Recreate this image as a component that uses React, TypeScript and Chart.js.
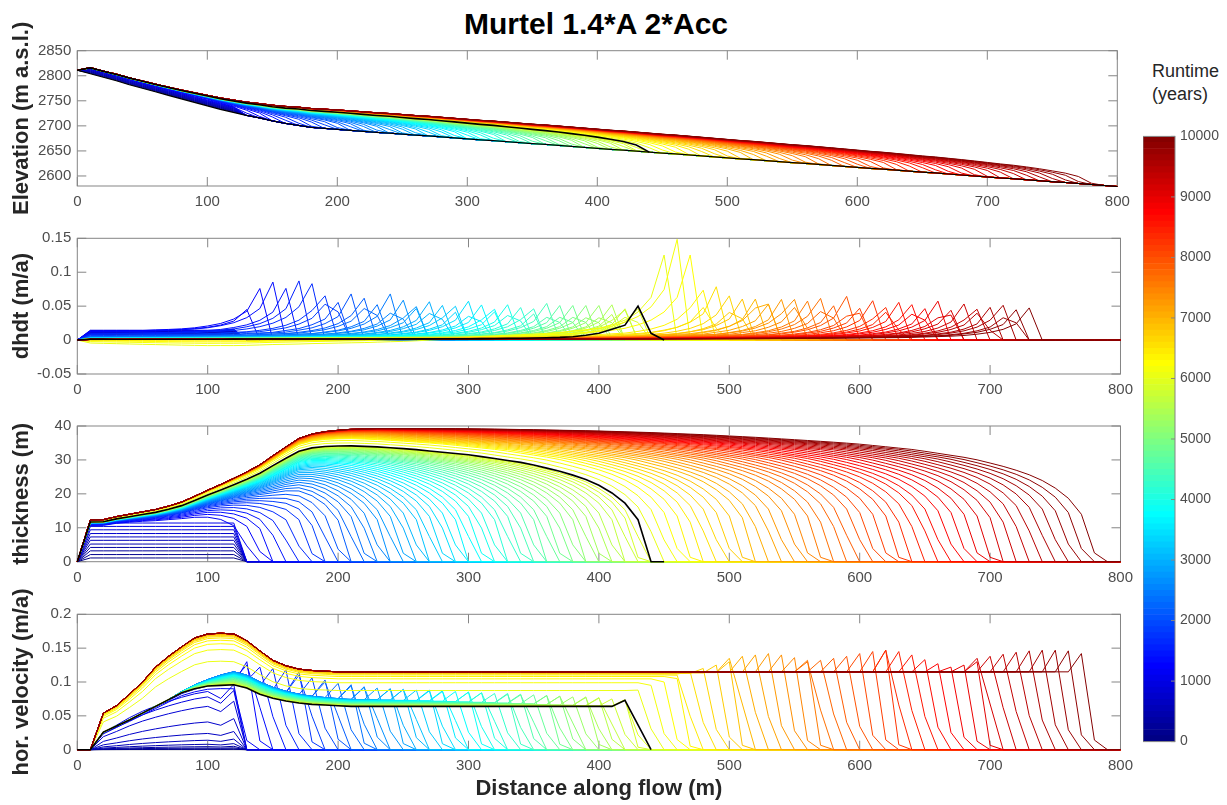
import React, { useEffect, useRef } from 'react';
import { Chart, registerables } from 'chart.js';

Chart.register(...registerables);

// ---------------- data ----------------
const distance = [
  0, 10, 20, 30, 40, 50, 60, 70, 80, 90,
  100, 110, 120, 130, 140, 150, 160, 170, 180, 190,
  200, 210, 220, 230, 240, 250, 260, 270, 280, 290,
  300, 310, 320, 330, 340, 350, 360, 370, 380, 390,
  400, 410, 420, 430, 440, 450, 460, 470, 480, 490,
  500, 510, 520, 530, 540, 550, 560, 570, 580, 590,
  600, 610, 620, 630, 640, 650, 660, 670, 680, 690,
  700, 710, 720, 730, 740, 750, 760, 770, 780, 790,
  800,
];

const runtimeYears = [
  100, 200, 300, 400, 500, 600, 700, 800, 900, 1000,
  1100, 1200, 1300, 1400, 1500, 1600, 1700, 1800, 1900, 2000,
  2100, 2200, 2300, 2400, 2500, 2600, 2700, 2800, 2900, 3000,
  3100, 3200, 3300, 3400, 3500, 3600, 3700, 3800, 3900, 4000,
  4100, 4200, 4300, 4400, 4500, 4600, 4700, 4800, 4900, 5000,
  5100, 5200, 5300, 5400, 5500, 5600, 5700, 5800, 5900, 6000,
  6100, 6200, 6300, 6400, 6500, 6600, 6700, 6800, 6900, 7000,
  7100, 7200, 7300, 7400, 7500, 7600, 7700, 7800, 7900, 8000,
  8100, 8200, 8300, 8400, 8500, 8600, 8700, 8800, 8900, 9000,
  9100, 9200, 9300, 9400, 9500, 9600, 9700, 9800, 9900, 10000,
];
const regimeChangeYear = 6000;

const xTicks = [0, 100, 200, 300, 400, 500, 600, 700, 800];
const elevationTicks = [2600, 2650, 2700, 2750, 2800, 2850];
const dhdtTicks = [-0.05, 0, 0.05, 0.1, 0.15];
const thicknessTicks = [0, 10, 20, 30, 40];
const velocityTicks = [0, 0.05, 0.1, 0.15, 0.2];
const runtimeTicks = [0, 1000, 2000, 3000, 4000, 5000, 6000, 7000, 8000, 9000, 10000];

// bed (lowest black line), m a.s.l.
const bedElevation = [
  2811, 2804, 2797, 2790, 2782, 2775, 2768, 2761, 2754, 2747,
  2740, 2733, 2727, 2721, 2716, 2710, 2705, 2701, 2697, 2695,
  2693, 2691, 2689, 2687, 2685.5, 2683.5, 2681.5, 2680, 2678, 2676,
  2674, 2672, 2670.5, 2668.5, 2666.5, 2664.5, 2663, 2661, 2659, 2657,
  2655, 2653, 2651.5, 2649.5, 2647.5, 2645.5, 2644, 2642, 2640, 2638,
  2636, 2634, 2632.5, 2630.5, 2628.5, 2626.5, 2625, 2623, 2621, 2619,
  2617, 2615, 2613.5, 2611.5, 2609.5, 2607.5, 2606, 2604, 2602, 2600,
  2598, 2596, 2594.5, 2592.5, 2590.5, 2588.5, 2587, 2585, 2583, 2581,
  2579,
];

// ---- thickness ----
const thicknessEnvelope = [
  0, 12.3, 12.4, 13.3, 14.0, 14.7, 15.4, 16.4, 17.6, 19.3,
  21.1, 22.8, 24.6, 26.5, 28.6, 31.3, 33.9, 36.4, 37.7, 38.4,
  38.8, 39.1, 39.2, 39.3, 39.3, 39.3, 39.3, 39.3, 39.3, 39.3,
  39.3, 39.3, 39.3, 39.3, 39.3, 39.3, 39.3, 39.3, 39.3, 39.3,
  39.3, 39.3, 39.3, 39.3, 39.3, 39.3, 39.3, 39.3, 39.3, 39.3,
  39.3, 39.3, 39.3, 39.3, 39.3, 39.3, 39.3, 39.3, 39.3, 39.3,
  39.3, 39.3, 39.3, 39.3, 39.3, 39.3, 39.3, 39.3, 39.3, 39.3,
  39.3, 39.3, 39.3, 39.3, 39.3, 39.3, 39.3, 39.3, 39.3, 39.3,
  39.3,
];
const frontReach = [
  1, 0.35, 0.35, 0.4, 0.45, 0.5, 0.55, 0.6, 0.65, 0.7,
  0.75, 0.8, 0.85, 0.9, 0.95, 1, 1, 1, 1, 1,
  1, 1, 1, 1, 1, 1, 1, 1, 1, 1,
  1, 1, 1, 1, 1, 1, 1, 1, 1, 1,
  1, 1, 1, 1, 1, 1, 1, 1, 1, 1,
  1, 1, 1, 1, 1, 1, 1, 1, 1, 1,
  1, 1, 1, 1, 1, 1, 1, 1, 1, 1,
  1, 1, 1, 1, 1, 1, 1, 1, 1, 1,
  1,
];
const frontDistance = [0, 10, 20, 30, 40, 50, 60, 70, 80, 90, 100, 110, 120, 130, 140, 150, 160, 170, 180, 190, 200, 220, 240, 260, 280, 300, 320, 340, 360, 380, 400, 450, 500, 800];
const frontProfile = [0, 0.33, 0.46, 0.54, 0.6, 0.645, 0.68, 0.71, 0.735, 0.76, 0.78, 0.795, 0.81, 0.825, 0.84, 0.85, 0.86, 0.87, 0.88, 0.888, 0.895, 0.908, 0.92, 0.932, 0.942, 0.952, 0.96, 0.968, 0.974, 0.98, 0.984, 0.993, 0.998, 1.0];

// first 11 runtimes: ice builds up behind the bump, no advance
const flatThickness = [1.1, 2.1, 3.2, 4.2, 5.2, 6.3, 7.3, 8.3, 9.4, 10.4, 11.4];
const flatThicknessShape = [
  0, 1, 1, 1, 1, 1, 1, 1, 1, 1,
  1, 1, 1, 0, 0, 0, 0, 0, 0, 0,
  0, 0, 0, 0, 0, 0, 0, 0, 0, 0,
  0, 0, 0, 0, 0, 0, 0, 0, 0, 0,
  0, 0, 0, 0, 0, 0, 0, 0, 0, 0,
  0, 0, 0, 0, 0, 0, 0, 0, 0, 0,
  0, 0, 0, 0, 0, 0, 0, 0, 0, 0,
  0, 0, 0, 0, 0, 0, 0, 0, 0, 0,
  0,
];
// front position (m) for runtimes 1200 ... 10000
const frontPosition = [
  133, 142, 150, 158, 166, 174, 182, 189, 196,
  203, 210, 216, 222, 228, 234, 240, 246, 252, 258,
  264, 270, 276, 282, 288, 294, 300, 306, 312, 318,
  324, 330, 336, 342, 348, 354, 360, 366, 372, 378,
  384, 390, 396, 402, 408, 414, 420, 426, 431, 436,
  447, 455, 463, 471, 479, 487, 495, 503, 511, 520,
  528, 537, 545, 554, 562, 571, 579, 588, 596, 605,
  613, 622, 631, 639, 648, 657, 665, 674, 683, 692,
  701, 710, 719, 728, 737, 746, 755, 764, 773, 782,
];
const thicknessScale = [
  0.93, 0.935, 0.94, 0.945, 0.95, 0.955, 0.955, 0.955, 0.955,
  0.955, 0.955, 0.955, 0.955, 0.955, 0.955, 0.955, 0.955, 0.955, 0.955,
  0.955, 0.955, 0.955, 0.955, 0.955, 0.955, 0.955, 0.955, 0.955, 0.955,
  0.955, 0.955, 0.955, 0.955, 0.955, 0.955, 0.955, 0.955, 0.955, 0.955,
  0.955, 0.955, 0.955, 0.955, 0.955, 0.955, 0.955, 0.955, 0.955, 0.955,
  0.975, 0.99, 1, 1, 1, 1, 1, 1, 1, 1,
  1, 1, 1, 1, 1, 1, 1, 1, 1, 1,
  1, 1, 1, 1, 1, 1, 1, 1, 1, 1,
  1, 1, 1, 1, 1, 1, 1, 1, 1, 1,
];
const observedFront = 440;
const observedScale = 0.955;

// ---- dhdt ----
const flatDhdt = [0.008, 0.0088, 0.0095, 0.0102, 0.0108, 0.0114, 0.012, 0.0126, 0.0132, 0.0138, 0.0145];
const flatDhdtShape = [
  0, 1, 1, 1, 1, 1, 1, 1, 1, 1,
  1, 1, 1.12, 0, 0, 0, 0, 0, 0, 0,
  0, 0, 0, 0, 0, 0, 0, 0, 0, 0,
  0, 0, 0, 0, 0, 0, 0, 0, 0, 0,
  0, 0, 0, 0, 0, 0, 0, 0, 0, 0,
  0, 0, 0, 0, 0, 0, 0, 0, 0, 0,
  0, 0, 0, 0, 0, 0, 0, 0, 0, 0,
  0, 0, 0, 0, 0, 0, 0, 0, 0, 0,
  0,
];
const dhdtFront = [
  136, 146, 156, 166, 176, 185, 194, 202, 210,
  218, 225, 232, 239, 246, 252, 258, 264, 270, 276,
  282, 288, 294, 300, 306, 312, 318, 324, 330, 336,
  342, 348, 354, 360, 366, 372, 377, 382, 387, 392,
  397, 402, 407, 412, 416, 420, 424, 428, 432, 435,
  456, 466, 476, 484, 491, 498, 505, 512, 519, 526,
  533, 540, 547, 554, 561, 568, 575, 582, 589, 596,
  603, 610, 617, 624, 631, 638, 645, 652, 659, 666,
  673, 680, 687, 694, 701, 708, 715, 722, 729, 736,
];
const dhdtAmplitude = [
  0.034, 0.067, 0.078, 0.07, 0.082, 0.085, 0.072, 0.076, 0.07,
  0.071, 0.064, 0.068, 0.06, 0.066, 0.058, 0.062, 0.056, 0.06, 0.055,
  0.058, 0.054, 0.057, 0.053, 0.056, 0.052, 0.055, 0.052, 0.054, 0.051,
  0.054, 0.051, 0.053, 0.05, 0.053, 0.05, 0.052, 0.05, 0.052, 0.05,
  0.052, 0.049, 0.052, 0.049, 0.051, 0.049, 0.051, 0.049, 0.05, 0.049,
  0.125, 0.148, 0.125, 0.086, 0.068, 0.085, 0.07, 0.062, 0.072, 0.06,
  0.078, 0.07, 0.062, 0.07, 0.068, 0.062, 0.066, 0.064, 0.06, 0.064,
  0.058, 0.062, 0.06, 0.056, 0.058, 0.06, 0.056, 0.058, 0.055, 0.057,
  0.054, 0.058, 0.055, 0.053, 0.056, 0.052, 0.055, 0.05, 0.053, 0.047,
];
const dhdtBase = [
  0.011, 0.009, 0.0075, 0.0062, 0.0052, 0.0045, 0.004, 0.0035, 0.003,
  0.0027, 0.0025, 0.0023, 0.0021, 0.002, 0.0019, 0.0018, 0.0017, 0.0016, 0.0015,
  0.0015, 0.0014, 0.0014, 0.0013, 0.0013, 0.0012, 0.0012, 0.0012, 0.0011, 0.0011,
  0.0011, 0.001, 0.001, 0.001, 0.001, 0.001, 0.001, 0.001, 0.001, 0.001,
  0.001, 0.001, 0.001, 0.001, 0.001, 0.001, 0.001, 0.001, 0.001, 0.001,
  0.0004, 0.0004, 0.0004, 0.0004, 0.0004, 0.0004, 0.0004, 0.0004, 0.0004, 0.0004,
  0.0004, 0.0004, 0.0004, 0.0004, 0.0004, 0.0004, 0.0004, 0.0004, 0.0004, 0.0004,
  0.0004, 0.0004, 0.0004, 0.0004, 0.0004, 0.0004, 0.0004, 0.0004, 0.0004, 0.0004,
  0.0004, 0.0004, 0.0004, 0.0004, 0.0004, 0.0004, 0.0004, 0.0004, 0.0004, 0.0004,
];
const dhdtShapeDistance = [0, 2, 4, 6, 8, 10, 14, 20, 30, 40, 60, 100, 200, 400, 800];
const dhdtShape = [0, 0.5, 0.85, 1, 0.92, 0.75, 0.55, 0.4, 0.28, 0.2, 0.12, 0.07, 0.035, 0.015, 0.006];
const dhdtThinning = [
  0, -0.0065, -0.007, -0.0075, -0.008, -0.0085, -0.009, -0.0095, -0.01, -0.0105,
  -0.011, -0.011, -0.0112, -0.011, -0.0105, -0.01, -0.0098, -0.0095, -0.009, -0.0088,
  -0.0085, -0.0082, -0.008, -0.0075, -0.007, -0.0066, -0.006, -0.0055, -0.005, -0.0045,
  -0.004, -0.0035, -0.003, -0.0025, -0.002, -0.0015, -0.001, -0.0005, 0, 0,
  0, 0, 0, 0, 0, 0, 0, 0, 0, 0,
  0, 0, 0, 0, 0, 0, 0, 0, 0, 0,
  0, 0, 0, 0, 0, 0, 0, 0, 0, 0,
  0, 0, 0, 0, 0, 0, 0, 0, 0, 0,
  0,
];
const dhdtThinningFactor = [
  0, 0, 0, 0, 0, 0, 0, 0, 0,
  0, 0, 0, 0, 0, 0, 0, 0, 0, 0,
  0, 0, 0, 0, 0, 0, 0, 0, 0, 0,
  0, 0, 0, 0, 0, 0, 0, 0, 0, 0,
  0, 0, 0, 0, 0, 0, 0, 0, 0, 0,
  1, 0.72, 0.48, 0.28, 0.12, 0, 0, 0, 0, 0,
  0, 0, 0, 0, 0, 0, 0, 0, 0, 0,
  0, 0, 0, 0, 0, 0, 0, 0, 0, 0,
  0, 0, 0, 0, 0, 0, 0, 0, 0, 0,
];
const observedDhdt = [
  0, 0.0015, 0.0014, 0.0013, 0.0013, 0.0012, 0.0012, 0.0012, 0.0012, 0.0012,
  0.0012, 0.0013, 0.0014, 0.0015, 0.0015, 0.0015, 0.0015, 0.0015, 0.0015, 0.0015,
  0.0015, 0.0015, 0.0016, 0.0016, 0.0017, 0.0017, 0.0018, 0.0018, 0.0019, 0.0019,
  0.002, 0.0022, 0.0024, 0.0026, 0.0028, 0.003, 0.0035, 0.004, 0.005, 0.007,
  0.01, 0.016, 0.022, 0.05, 0.01, 0, 0, 0, 0, 0,
  0, 0, 0, 0, 0, 0, 0, 0, 0, 0,
  0, 0, 0, 0, 0, 0, 0, 0, 0, 0,
  0, 0, 0, 0, 0, 0, 0, 0, 0, 0,
  0,
];

// ---- horizontal velocity ----
const flatVelocity = [0.0005, 0.0012, 0.0025, 0.0045, 0.008, 0.014, 0.024, 0.041, 0.064, 0.078, 0.086];
const flatVelocityShape = [
  0, 0, 0.3, 0.42, 0.55, 0.66, 0.75, 0.83, 0.9, 0.96,
  1, 0.88, 1.12, 0, 0, 0, 0, 0, 0, 0,
  0, 0, 0, 0, 0, 0, 0, 0, 0, 0,
  0, 0, 0, 0, 0, 0, 0, 0, 0, 0,
  0, 0, 0, 0, 0, 0, 0, 0, 0, 0,
  0, 0, 0, 0, 0, 0, 0, 0, 0, 0,
  0, 0, 0, 0, 0, 0, 0, 0, 0, 0,
  0, 0, 0, 0, 0, 0, 0, 0, 0, 0,
  0,
];
const velocityPre = [
  0, 0, 0.026, 0.035, 0.044, 0.054, 0.064, 0.074, 0.084, 0.09,
  0.094, 0.095, 0.096, 0.091, 0.082, 0.076, 0.072, 0.069, 0.067, 0.066,
  0.065, 0.064, 0.064, 0.064, 0.064, 0.064, 0.064, 0.064, 0.064, 0.064,
  0.064, 0.064, 0.064, 0.064, 0.064, 0.064, 0.064, 0.064, 0.064, 0.064,
  0.064, 0.064, 0.064, 0.064, 0.064, 0.064, 0.064, 0.064, 0.064, 0.064,
  0.064, 0.064, 0.064, 0.064, 0.064, 0.064, 0.064, 0.064, 0.064, 0.064,
  0.064, 0.064, 0.064, 0.064, 0.064, 0.064, 0.064, 0.064, 0.064, 0.064,
  0.064, 0.064, 0.064, 0.064, 0.064, 0.064, 0.064, 0.064, 0.064, 0.064,
  0.064,
];
const velocityExcessShape = [
  0, 0, 0, 0, 0, 0, 0, 0, 0.1, 0.3,
  0.5, 0.8, 1, 1, 0.95, 0.85, 0.75, 0.68, 0.62, 0.58,
  0.55, 0.55, 0.55, 0.55, 0.55, 0.55, 0.55, 0.55, 0.55, 0.55,
  0.55, 0.55, 0.55, 0.55, 0.55, 0.55, 0.55, 0.55, 0.55, 0.55,
  0.55, 0.55, 0.55, 0.55, 0.55, 0.55, 0.55, 0.55, 0.55, 0.55,
  0.55, 0.55, 0.55, 0.55, 0.55, 0.55, 0.55, 0.55, 0.55, 0.55,
  0.55, 0.55, 0.55, 0.55, 0.55, 0.55, 0.55, 0.55, 0.55, 0.55,
  0.55, 0.55, 0.55, 0.55, 0.55, 0.55, 0.55, 0.55, 0.55, 0.55,
  0.55,
];
const velocityPost = [
  0, 0, 0.054, 0.065, 0.082, 0.1, 0.122, 0.138, 0.152, 0.165,
  0.171, 0.172, 0.171, 0.161, 0.146, 0.132, 0.124, 0.119, 0.117, 0.116,
  0.115, 0.115, 0.115, 0.115, 0.115, 0.115, 0.115, 0.115, 0.115, 0.115,
  0.115, 0.115, 0.115, 0.115, 0.115, 0.115, 0.115, 0.115, 0.115, 0.115,
  0.115, 0.115, 0.115, 0.115, 0.115, 0.115, 0.115, 0.115, 0.115, 0.115,
  0.115, 0.115, 0.115, 0.115, 0.115, 0.115, 0.115, 0.115, 0.115, 0.115,
  0.115, 0.115, 0.115, 0.115, 0.115, 0.115, 0.115, 0.115, 0.115, 0.115,
  0.115, 0.115, 0.115, 0.115, 0.115, 0.115, 0.115, 0.115, 0.115, 0.115,
  0.115,
];
const velocityScale = [
  0.95, 0.98, 1, 1, 1, 1, 1, 1, 1,
  1, 1, 1, 1, 1, 1, 1, 1, 1, 1,
  1, 1, 1, 1, 1, 1, 1, 1, 1, 1,
  1, 1, 1, 1, 1, 1, 1, 1, 1, 1,
  1, 1, 1, 1, 1, 1, 1, 1, 1, 1,
  0.76, 0.86, 0.91, 0.94, 0.96, 0.972, 0.98, 0.986, 0.99, 0.993,
  0.996, 0.998, 1, 1, 1, 1, 1, 1, 1, 1,
  1, 1, 1, 1, 1, 1, 1, 1, 1, 1,
  1, 1, 1, 1, 1, 1, 1, 1, 1, 1,
];
const velocityExcess = [
  0, 0.004, 0.008, 0.011, 0.013, 0.015, 0.016, 0.017, 0.018,
  0.019, 0.019, 0.019, 0.019, 0.019, 0.019, 0.019, 0.018, 0.018, 0.018,
  0.017, 0.017, 0.016, 0.016, 0.015, 0.015, 0.014, 0.014, 0.013, 0.013,
  0.012, 0.011, 0.011, 0.01, 0.009, 0.009, 0.008, 0.007, 0.007, 0.006,
  0.005, 0.005, 0.004, 0.003, 0.003, 0.002, 0.002, 0.001, 0.001, 0,
  0, 0, 0, 0, 0, 0, 0, 0, 0, 0,
  0, 0, 0, 0, 0, 0, 0, 0, 0, 0,
  0, 0, 0, 0, 0, 0, 0, 0, 0, 0,
  0, 0, 0, 0, 0, 0, 0, 0, 0, 0,
];
const velocityTip = [
  0.09, 0.13, 0.125, 0.122, 0.12, 0.118, 0.115, 0.11, 0.106,
  0.103, 0.1, 0.098, 0.096, 0.094, 0.093, 0.092, 0.091, 0.09, 0.09,
  0.089, 0.089, 0.088, 0.088, 0.087, 0.087, 0.086, 0.086, 0.085, 0.085,
  0.084, 0.084, 0.083, 0.083, 0.082, 0.082, 0.081, 0.081, 0.08, 0.08,
  0.079, 0.079, 0.078, 0.078, 0.077, 0.077, 0.076, 0.075, 0.074, 0.073,
  0.088, 0.095, 0.1, 0.105, 0.11, 0.115, 0.12, 0.125, 0.13, 0.135,
  0.138, 0.14, 0.142, 0.14, 0.136, 0.132, 0.13, 0.132, 0.135, 0.138,
  0.142, 0.145, 0.147, 0.147, 0.145, 0.14, 0.133, 0.127, 0.122, 0.125,
  0.13, 0.135, 0.138, 0.141, 0.144, 0.146, 0.147, 0.147, 0.146, 0.142,
];
const observedTip = 0.073;

// ---------------- model assembly ----------------
function lookup(xs: number[], ys: number[], v: number): number {
  if (v <= xs[0]) return ys[0];
  for (let i = 1; i < xs.length; i++) {
    if (v <= xs[i]) {
      const t = (v - xs[i - 1]) / (xs[i] - xs[i - 1]);
      return ys[i - 1] + t * (ys[i] - ys[i - 1]);
    }
  }
  return ys[ys.length - 1];
}

const flatCount = flatThickness.length;

function thicknessAt(j: number, front: number, scale: number): number {
  const d = front - distance[j];
  if (d <= 0) return 0;
  const g = lookup(frontDistance, frontProfile, d);
  return thicknessEnvelope[j] * scale * (1 - (1 - g) * frontReach[j]);
}
function thicknessSeries(s: number): number[] {
  if (s < flatCount) return distance.map((_, j) => flatThickness[s] * flatThicknessShape[j]);
  const a = s - flatCount;
  return distance.map((_, j) => thicknessAt(j, frontPosition[a], thicknessScale[a]));
}
function dhdtSeries(s: number): number[] {
  if (s < flatCount) return distance.map((_, j) => flatDhdt[s] * flatDhdtShape[j]);
  const a = s - flatCount;
  return distance.map((x, j) => {
    if (j === 0) return 0;
    const dd = dhdtFront[a] - x;
    if (dd <= 0) return 0;
    return dhdtAmplitude[a] * lookup(dhdtShapeDistance, dhdtShape, dd) + dhdtBase[a] + dhdtThinningFactor[a] * dhdtThinning[j];
  });
}
function velocityAt(j: number, front: number, profile: number, tip: number): number {
  const d = front - distance[j];
  if (d <= 0) return 0;
  if (d <= 10) return tip * 0.5 * d / 10;
  if (d <= 20) return tip;
  return profile;
}
function velocitySeries(s: number): number[] {
  if (s < flatCount) return distance.map((_, j) => flatVelocity[s] * flatVelocityShape[j]);
  const a = s - flatCount;
  const post = runtimeYears[s] > regimeChangeYear;
  return distance.map((_, j) => {
    const base = post
      ? velocityPost[j] * velocityScale[a]
      : velocityPre[j] * velocityScale[a] + velocityExcess[a] * velocityExcessShape[j];
    return velocityAt(j, frontPosition[a], base, velocityTip[a]);
  });
}

const thicknessLines = runtimeYears.map((_, s) => thicknessSeries(s));
const elevationLines = thicknessLines.map((h) => h.map((v, j) => bedElevation[j] + v));
const dhdtLines = runtimeYears.map((_, s) => dhdtSeries(s));
const velocityLines = runtimeYears.map((_, s) => velocitySeries(s));
const observedThickness = distance.map((_, j) => thicknessAt(j, observedFront, observedScale));
const observedElevation = observedThickness.map((v, j) => bedElevation[j] + v);
const observedVelocity = distance.map((_, j) => velocityAt(j, observedFront, velocityPre[j], observedTip));

// MATLAB jet(m)
function jetMap(m: number): number[][] {
  const n = Math.ceil(m / 4);
  const u: number[] = [];
  for (let i = 1; i <= n; i++) u.push(i / n);
  for (let i = 1; i < n; i++) u.push(1);
  for (let i = n; i >= 1; i--) u.push(i / n);
  const off = Math.ceil(n / 2) - (m % 4 === 1 ? 1 : 0);
  const g = u.map((_, i) => off + i + 1);
  const r = g.map((v) => v + n);
  const b = g.map((v) => v - n);
  const J = Array.from({ length: m }, () => [0, 0, 0]);
  const gk = g.filter((v) => v <= m);
  const rk = r.filter((v) => v <= m);
  const bk = b.filter((v) => v >= 1);
  rk.forEach((row, i) => { J[row - 1][0] = u[i]; });
  gk.forEach((row, i) => { J[row - 1][1] = u[i]; });
  bk.forEach((row, i) => { J[row - 1][2] = u[u.length - bk.length + i]; });
  return J;
}
const lineColors = jetMap(runtimeYears.length).map(
  ([r, g, b]) => `rgb(${Math.round(r * 255)},${Math.round(g * 255)},${Math.round(b * 255)})`
);

// ---------------- rendering ----------------
const FONT = "'Liberation Sans', Arial, Helvetica, sans-serif";
const AXIS_LEFT = 77.3;
const CANVAS_W = 1140;
const TICK_COLOR = '#4d4d4d';
const FRAME_COLOR = '#858585';

type PanelSpec = {
  canvasTop: number; top: number; bottom: number; right: number;
  min: number; max: number; ticks: number[]; title: string;
  lines: number[][]; observed: number[]; observedEnd: number; bed?: number[]; xTitle?: string; last?: boolean;
};

const PANELS: PanelSpec[] = [
  { canvasTop: 15, top: 50.7, bottom: 186, right: 1117.3, min: 2580, max: 2850, ticks: elevationTicks, title: 'Elevation (m a.s.l.)', lines: elevationLines, observed: observedElevation, observedEnd: observedFront, bed: bedElevation },
  { canvasTop: 220, top: 238.3, bottom: 374, right: 1122.7, min: -0.05, max: 0.15, ticks: dhdtTicks, title: 'dhdt (m/a)', lines: dhdtLines, observed: observedDhdt, observedEnd: observedFront + 10 },
  { canvasTop: 410, top: 426, bottom: 561.7, right: 1125, min: 0, max: 40, ticks: thicknessTicks, title: 'thickness (m)', lines: thicknessLines, observed: observedThickness, observedEnd: observedFront + 10 },
  { canvasTop: 578, top: 614.3, bottom: 749.7, right: 1129.3, min: 0, max: 0.2, ticks: velocityTicks, title: 'hor. velocity (m/a)', lines: velocityLines, observed: observedVelocity, observedEnd: observedFront, xTitle: 'Distance along flow (m)', last: true },
];

function canvasHeight(p: PanelSpec) {
  return p.last ? 805 - p.canvasTop : Math.ceil(p.bottom - p.canvasTop + 30);
}

function framePlugin(tickLen: number, colorbar: boolean) {
  const draw = (chart: any) => {
    const { ctx, chartArea: a } = chart;
    ctx.save();
    ctx.strokeStyle = FRAME_COLOR;
    ctx.lineWidth = 1;
    ctx.strokeRect(a.left, a.top, a.right - a.left, a.bottom - a.top);
    ctx.beginPath();
    if (!colorbar) {
      const xs = chart.scales.x;
      for (const t of xs.ticks) {
        const p = xs.getPixelForValue(t.value);
        ctx.moveTo(p, a.bottom); ctx.lineTo(p, a.bottom - tickLen);
        ctx.moveTo(p, a.top); ctx.lineTo(p, a.top + tickLen);
      }
    }
    const ys = chart.scales.y;
    for (const t of ys.ticks) {
      const p = ys.getPixelForValue(t.value);
      if (!colorbar) { ctx.moveTo(a.left, p); ctx.lineTo(a.left + tickLen, p); }
      ctx.moveTo(a.right, p); ctx.lineTo(a.right - tickLen, p);
    }
    ctx.stroke();
    ctx.restore();
  };
  return colorbar
    ? { id: 'frameCb', afterDatasetsDraw: draw }
    : { id: 'framePanel', beforeDatasetsDraw: draw };
}

function buildPanel(canvas: HTMLCanvasElement, p: PanelSpec) {
  const h = canvasHeight(p);
  const xh = h - (p.bottom - p.canvasTop);
  const toPts = (vals: number[]) => distance.map((x, j) => ({ x, y: vals[j] }));
  const datasets: any[] = p.lines.map((vals, i) => ({
    data: toPts(vals), borderColor: lineColors[i], borderWidth: 1,
    pointRadius: 0, tension: 0, fill: false, order: 1000 - i, clip: 6,
  }));
  if (p.bed) {
    datasets.push({ data: toPts(p.bed), borderColor: '#000', borderWidth: 1.2, pointRadius: 0, tension: 0, fill: false, order: 1, clip: 6 });
  }
  datasets.push({
    data: toPts(p.observed).filter((pt) => pt.x <= p.observedEnd),
    borderColor: '#000', borderWidth: 1.6, pointRadius: 0, tension: 0, fill: false, order: 0, clip: 6,
  });

  return new Chart(canvas, {
    type: 'line',
    data: { datasets },
    options: {
      animation: false, responsive: false, devicePixelRatio: 1, events: [],
      parsing: false, normalized: true,
      layout: { padding: { top: p.top - p.canvasTop, right: CANVAS_W - p.right, left: 0, bottom: 0 } },
      plugins: { legend: { display: false }, tooltip: { enabled: false }, title: { display: false } },
      scales: {
        x: {
          type: 'linear', min: 0, max: 800,
          afterBuildTicks: (s: any) => { s.ticks = xTicks.map((v) => ({ value: v })); },
          afterFit: (s: any) => { s.height = xh; },
          grid: { display: false, drawTicks: false }, border: { display: false },
          ticks: { font: { family: FONT, size: 15 }, color: TICK_COLOR, padding: 7, maxRotation: 0, autoSkip: false, callback: (v: any) => String(v) },
          title: p.xTitle
            ? { display: true, text: p.xTitle, font: { family: FONT, size: 22, weight: 'bold' }, color: '#262626', padding: { top: 0, bottom: 3 } }
            : { display: false },
        },
        y: {
          type: 'linear', min: p.min, max: p.max,
          afterBuildTicks: (s: any) => { s.ticks = p.ticks.map((v) => ({ value: v })); },
          afterFit: (s: any) => { s.width = AXIS_LEFT; },
          grid: { display: false, drawTicks: false }, border: { display: false },
          ticks: { font: { family: FONT, size: 15 }, color: TICK_COLOR, padding: 6, autoSkip: false, callback: (v: any) => String(v) },
          title: { display: true, text: p.title, font: { family: FONT, size: 22, weight: 'bold' }, color: '#262626', padding: { top: 9, bottom: 0 } },
        },
      },
    } as any,
    plugins: [framePlugin(9, false)],
  });
}

const CB = { left: 1143, top: 123, width: 84, height: 632, barWidth: 32 };

function buildColorbar(canvas: HTMLCanvasElement) {
  return new Chart(canvas, {
    type: 'bar',
    data: {
      labels: ['runtime'],
      datasets: runtimeYears.map((t, i) => ({
        data: [[i === 0 ? 0 : runtimeYears[i - 1], t]],
        backgroundColor: lineColors[i], borderWidth: 0,
        barPercentage: 1, categoryPercentage: 1, grouped: false,
      })),
    },
    options: {
      animation: false, responsive: false, devicePixelRatio: 1, events: [],
      layout: { padding: { top: 10, bottom: 10, left: 0, right: 0 } },
      plugins: { legend: { display: false }, tooltip: { enabled: false } },
      scales: {
        x: { display: false },
        y: {
          position: 'right', min: 0, max: 10000,
          afterBuildTicks: (s: any) => { s.ticks = runtimeTicks.map((v) => ({ value: v })); },
          afterFit: (s: any) => { s.width = CB.width - CB.barWidth; },
          grid: { display: false, drawTicks: false }, border: { display: false },
          ticks: { font: { family: FONT, size: 14 }, color: TICK_COLOR, padding: 5, autoSkip: false, callback: (v: any) => String(v) },
        },
      },
    } as any,
    plugins: [framePlugin(4, true)],
  });
}

export default function App() {
  const r0 = useRef<HTMLCanvasElement>(null);
  const r1 = useRef<HTMLCanvasElement>(null);
  const r2 = useRef<HTMLCanvasElement>(null);
  const r3 = useRef<HTMLCanvasElement>(null);
  const cbRef = useRef<HTMLCanvasElement>(null);
  const refs = [r0, r1, r2, r3];

  useEffect(() => {
    const charts: Chart[] = [];
    PANELS.forEach((p, i) => {
      const c = refs[i].current;
      if (c) charts.push(buildPanel(c, p));
    });
    if (cbRef.current) charts.push(buildColorbar(cbRef.current));
    return () => charts.forEach((c) => c.destroy());
  }, []);

  return (
    <div style={{ position: 'absolute', left: 0, top: 0, width: 1227, height: 805, background: '#fff', overflow: 'hidden', fontFamily: FONT }}>
      <div style={{ position: 'absolute', left: 396, top: 9, width: 400, textAlign: 'center', fontFamily: FONT, fontWeight: 'bold', fontSize: 30, lineHeight: '30px', color: '#000', whiteSpace: 'nowrap' }}>
        Murtel 1.4*A 2*Acc
      </div>
      {PANELS.map((p, i) => (
        <canvas
          key={i}
          ref={refs[i]}
          width={CANVAS_W}
          height={canvasHeight(p)}
          style={{ position: 'absolute', left: 0, top: p.canvasTop, width: CANVAS_W, height: canvasHeight(p) }}
        />
      ))}
      <div style={{ position: 'absolute', left: 1152, top: 60, fontFamily: FONT, fontSize: 18, lineHeight: '23px', color: '#262626', whiteSpace: 'nowrap' }}>
        Runtime<br />(years)
      </div>
      <canvas
        ref={cbRef}
        width={CB.width}
        height={CB.height}
        style={{ position: 'absolute', left: CB.left, top: CB.top, width: CB.width, height: CB.height }}
      />
    </div>
  );
}
